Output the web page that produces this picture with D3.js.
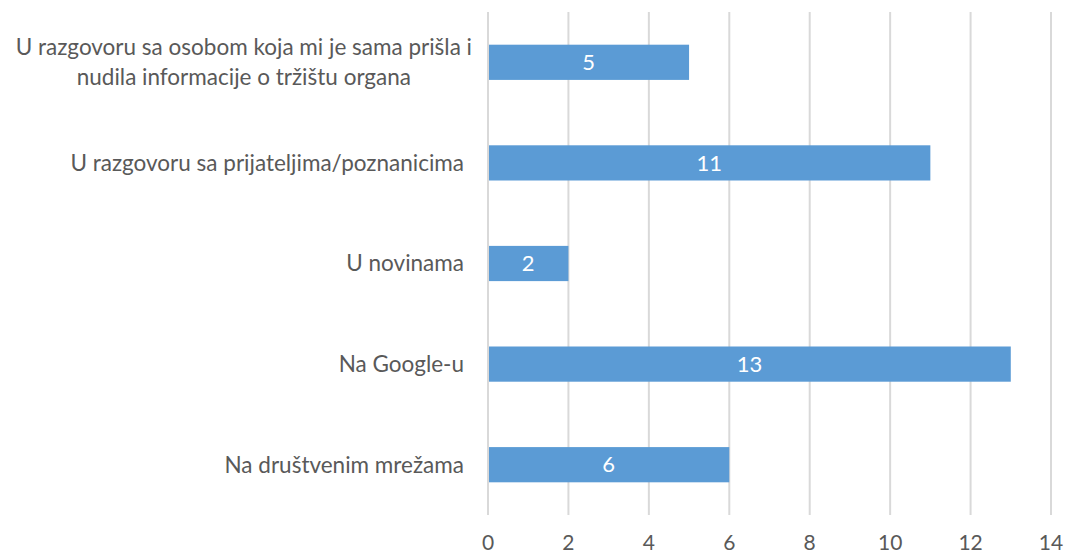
<!DOCTYPE html>
<html>
<head>
<meta charset="utf-8">
<script src="https://cdn.jsdelivr.net/npm/d3@7"></script>
<style>
  body { margin: 0; background: #fff; }
  text { font-family: Lato, "Open Sans", sans-serif; }
</style>
</head>
<body>
<div id="chart"></div>
<script>
// kategorije (odozgo prema dolje) i vrijednosti
var categories = [
    ["U razgovoru sa osobom koja mi je sama prišla i", "nudila informacije o tržištu organa"],
    ["U razgovoru sa prijateljima/poznanicima"],
    ["U novinama"],
    ["Na Google-u"],
    ["Na društvenim mrežama"]
];
var values = [5, 11, 2, 13, 6];
var tickValues = [0, 2, 4, 6, 8, 10, 12, 14];

var width = 1066, height = 556;
var margin = { top: 12, right: 15, bottom: 41, left: 488 };

var svg = d3.select("#chart").append("svg")
    .attr("width", width)
    .attr("height", height);

var x = d3.scaleLinear()
    .domain([0, 14])
    .range([margin.left, width - margin.right]);

var y = d3.scaleBand()
    .domain(d3.range(categories.length))
    .range([margin.top, height - margin.bottom])
    .paddingInner(0.65)
    .paddingOuter(0.325);

// mreža
svg.selectAll("line.grid")
    .data(tickValues)
    .enter().append("line")
    .attr("class", "grid")
    .attr("x1", d => x(d))
    .attr("x2", d => x(d))
    .attr("y1", margin.top)
    .attr("y2", height - margin.bottom)
    .attr("stroke", "#d9d9d9")
    .attr("stroke-width", 2);

// stupci
svg.selectAll("rect.bar")
    .data(values)
    .enter().append("rect")
    .attr("class", "bar")
    .attr("x", x(0) + 1)
    .attr("y", (d, i) => y(i))
    .attr("width", d => x(d) - x(0) - 1)
    .attr("height", y.bandwidth())
    .attr("fill", "#5b9bd5");

// oznake vrijednosti
svg.selectAll("text.val")
    .data(values)
    .enter().append("text")
    .attr("class", "val")
    .attr("x", d => (x(0) + x(d)) / 2)
    .attr("y", (d, i) => y(i) + y.bandwidth() / 2)
    .attr("dy", "0.35em")
    .attr("text-anchor", "middle")
    .attr("fill", "#fff")
    .style("font-size", "22px")
    .text(d => d);

// oznake kategorija
var labelRight = 472;
categories.forEach(function(lines, i) {
    var g = svg.append("g");
    var cy = y(i) + y.bandwidth() / 2;
    var lh = 30;
    var texts = lines.map(function(line, j) {
        return g.append("text")
            .attr("y", cy + (j - (lines.length - 1) / 2) * lh)
            .attr("dy", "0.35em")
            .attr("fill", "#595959")
            .style("font-size", "22.5px")
            .text(line);
    });
    if (lines.length === 1) {
        texts[0].attr("x", 464).attr("text-anchor", "end");
    } else {
        var w = d3.max(texts, t => t.node().getComputedTextLength());
        texts.forEach(t => t.attr("x", labelRight - w / 2).attr("text-anchor", "middle"));
    }
});

// os x
svg.selectAll("text.tick")
    .data(tickValues)
    .enter().append("text")
    .attr("class", "tick")
    .attr("x", d => x(d))
    .attr("y", 543)
    .attr("dy", "0.35em")
    .attr("text-anchor", "middle")
    .attr("fill", "#595959")
    .style("font-size", "21px")
    .text(d => d);
</script>
</body>
</html>
